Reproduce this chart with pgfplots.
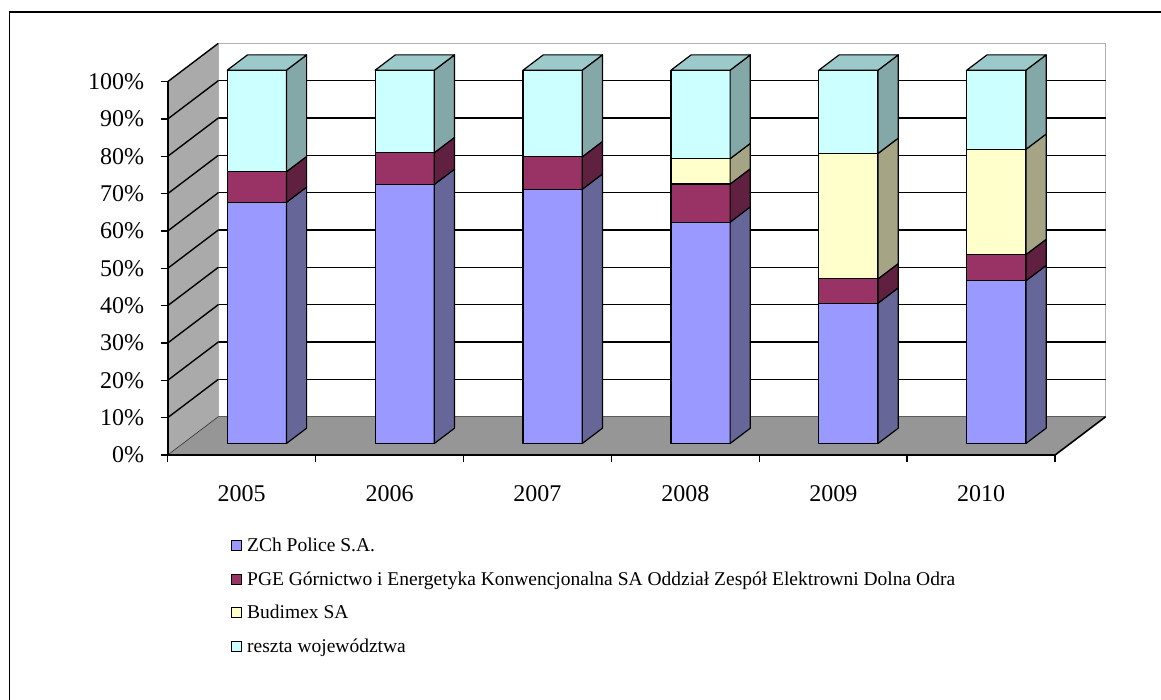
\documentclass[border=0pt]{standalone}
\usepackage{fontspec}
\setmainfont{Liberation Serif}
\usepackage{pgfplots}
\pgfplotsset{compat=1.18}

\definecolor{zch}{HTML}{9999FF}
\definecolor{zchs}{HTML}{666699}
\definecolor{pge}{HTML}{993366}
\definecolor{pges}{HTML}{602040}
\definecolor{bud}{HTML}{FFFFCC}
\definecolor{buds}{HTML}{A5A585}
\definecolor{rest}{HTML}{CCFFFF}
\definecolor{rests}{HTML}{84A8A8}
\definecolor{restt}{HTML}{9CCACA}
\definecolor{lwall}{HTML}{AAAAAA}
\definecolor{flr}{HTML}{969696}

\pgfplotsset{cub/.style={draw=black, line width=1.2pt, line join=round, mark=none}}

% one stacked segment of a 3-D column: front face and right side face
% #1 category index, #2 lower value, #3 upper value, #4 front colour, #5 side colour
\newcommand\seg[5]{%
  \pgfmathsetmacro\xl{#1-0.2+0.1026}%
  \pgfmathsetmacro\xr{#1+0.2+0.1026}%
  \pgfmathsetmacro\xb{#1+0.2+0.2394}%
  \pgfmathsetmacro\fa{#2+3.078}%
  \pgfmathsetmacro\fb{#3+3.078}%
  \pgfmathsetmacro\ba{#2+7.182}%
  \pgfmathsetmacro\bb{#3+7.182}%
  \edef\temp{%
    \noexpand\addplot[cub, fill=#4, forget plot] coordinates {(\xl,\fa) (\xr,\fa) (\xr,\fb) (\xl,\fb)} -- cycle;
    \noexpand\addplot[cub, fill=#5, forget plot] coordinates {(\xr,\fa) (\xb,\ba) (\xb,\bb) (\xr,\fb)} -- cycle;
  }\temp}
% top face of a column (at 100 %)
\newcommand\topface[1]{%
  \pgfmathsetmacro\xl{#1-0.2+0.1026}%
  \pgfmathsetmacro\xr{#1+0.2+0.1026}%
  \pgfmathsetmacro\xlb{#1-0.2+0.2394}%
  \pgfmathsetmacro\xb{#1+0.2+0.2394}%
  \edef\temp{%
    \noexpand\addplot[cub, fill=restt, forget plot] coordinates {(\xl,103.078) (\xr,103.078) (\xb,107.182) (\xlb,107.182)} -- cycle;
  }\temp}

\begin{document}
\begin{tikzpicture}
\path[use as bounding box] (0pt,0pt) rectangle (1161pt,700pt);
\draw[line width=1.5pt] (9.5pt,0pt) -- (9.5pt,688pt) -- (1161pt,688pt);
\begin{axis}[
  at={(167.7pt,245pt)}, anchor=south west,
  x=147.9pt, y=3.733pt,
  xmin=-0.5, xmax=5.5, ymin=0, ymax=100,
  enlargelimits=false, clip=false, axis on top,
  axis x line=bottom, axis y line=left,
  axis line style={-, line width=1.6pt, black},
  tick align=outside, major tick length=7pt,
  tick style={black, line width=1.5pt},
  ytick={0,10,...,100},
  yticklabels={0\%,10\%,20\%,30\%,40\%,50\%,60\%,70\%,80\%,90\%,100\%},
  xtick={-0.5,0.5,...,5.5}, xticklabels={},
  extra x ticks={0,1,2,3,4,5},
  extra x tick labels={2005,2006,2007,2008,2009,2010},
  extra x tick style={major tick length=0pt},
  tick label style={font=\fontsize{24}{28}\selectfont},
  yticklabel style={xshift=-13pt},
  xticklabel style={yshift=-27pt},
  legend image code/.code={\draw[#1, line width=1pt] (0pt,-5pt) rectangle (10pt,5pt);},
  legend cell align=left,
  legend style={draw=none, fill=none, at={(0.0713,-0.217)}, anchor=north west,
    font=\fontsize{19.5}{22}\selectfont, row sep=14.5pt, inner sep=0pt,
    nodes={inner sep=2pt},
    /tikz/every odd column/.append style={column sep=3pt}},
]
% back wall
\addplot[fill=white, draw=gray!60, line width=1pt, forget plot] coordinates {(-0.158,10.26) (5.842,10.26) (5.842,110.26) (-0.158,110.26)} -- cycle;
% back wall grid
\addplot[black, line width=1.4pt, forget plot] coordinates {(-0.158,20.26) (5.842,20.26)};
\addplot[black, line width=1.4pt, forget plot] coordinates {(-0.158,30.26) (5.842,30.26)};
\addplot[black, line width=1.4pt, forget plot] coordinates {(-0.158,40.26) (5.842,40.26)};
\addplot[black, line width=1.4pt, forget plot] coordinates {(-0.158,50.26) (5.842,50.26)};
\addplot[black, line width=1.4pt, forget plot] coordinates {(-0.158,60.26) (5.842,60.26)};
\addplot[black, line width=1.4pt, forget plot] coordinates {(-0.158,70.26) (5.842,70.26)};
\addplot[black, line width=1.4pt, forget plot] coordinates {(-0.158,80.26) (5.842,80.26)};
\addplot[black, line width=1.4pt, forget plot] coordinates {(-0.158,90.26) (5.842,90.26)};
\addplot[black, line width=1.4pt, forget plot] coordinates {(-0.158,100.26) (5.842,100.26)};
% left wall
\addplot[fill=lwall, draw=none, forget plot] coordinates {(-0.5,0) (-0.158,10.26) (-0.158,110.26) (-0.5,100)} -- cycle;
\addplot[black, line width=1.4pt, forget plot] coordinates {(-0.5,10) (-0.158,20.26)};
\addplot[black, line width=1.4pt, forget plot] coordinates {(-0.5,20) (-0.158,30.26)};
\addplot[black, line width=1.4pt, forget plot] coordinates {(-0.5,30) (-0.158,40.26)};
\addplot[black, line width=1.4pt, forget plot] coordinates {(-0.5,40) (-0.158,50.26)};
\addplot[black, line width=1.4pt, forget plot] coordinates {(-0.5,50) (-0.158,60.26)};
\addplot[black, line width=1.4pt, forget plot] coordinates {(-0.5,60) (-0.158,70.26)};
\addplot[black, line width=1.4pt, forget plot] coordinates {(-0.5,70) (-0.158,80.26)};
\addplot[black, line width=1.4pt, forget plot] coordinates {(-0.5,80) (-0.158,90.26)};
\addplot[black, line width=1.4pt, forget plot] coordinates {(-0.5,90) (-0.158,100.26)};
\addplot[black, line width=1.4pt, forget plot] coordinates {(-0.5,100) (-0.158,110.26)};
% floor
\addplot[fill=flr, draw=none, forget plot] coordinates {(-0.5,0) (5.5,0) (5.842,10.26) (-0.158,10.26)} -- cycle;
\addplot[gray!40!black, line width=0.6pt, forget plot] coordinates {(-0.5,0) (-0.158,10.26) (5.842,10.26)};
\addplot[black, line width=1.6pt, forget plot] coordinates {(5.5,0) (5.842,10.26)};

% columns: ZCh Police, PGE, Budimex, reszta (cumulative %)
\seg{0}{0}{64.6}{zch}{zchs}
\seg{0}{64.6}{72.8}{pge}{pges}
\seg{0}{72.8}{100}{rest}{rests}
\topface{0}
\seg{1}{0}{69.4}{zch}{zchs}
\seg{1}{69.4}{77.9}{pge}{pges}
\seg{1}{77.9}{100}{rest}{rests}
\topface{1}
\seg{2}{0}{68.1}{zch}{zchs}
\seg{2}{68.1}{76.8}{pge}{pges}
\seg{2}{76.8}{100}{rest}{rests}
\topface{2}
\seg{3}{0}{59.3}{zch}{zchs}
\seg{3}{59.3}{69.5}{pge}{pges}
\seg{3}{69.5}{76.3}{bud}{buds}
\seg{3}{76.3}{100}{rest}{rests}
\topface{3}
\seg{4}{0}{37.6}{zch}{zchs}
\seg{4}{37.6}{44.1}{pge}{pges}
\seg{4}{44.1}{77.7}{bud}{buds}
\seg{4}{77.7}{100}{rest}{rests}
\topface{4}
\seg{5}{0}{43.6}{zch}{zchs}
\seg{5}{43.6}{50.6}{pge}{pges}
\seg{5}{50.6}{78.8}{bud}{buds}
\seg{5}{78.8}{100}{rest}{rests}
\topface{5}

\addlegendimage{fill=zch, draw=black}
\addlegendentry{ZCh Police S.A.}
\addlegendimage{fill=pge, draw=black}
\addlegendentry{PGE Górnictwo i Energetyka Konwencjonalna SA Oddział Zespół Elektrowni Dolna Odra}
\addlegendimage{fill=bud, draw=black}
\addlegendentry{Budimex SA}
\addlegendimage{fill=rest, draw=black}
\addlegendentry{reszta województwa}
\end{axis}
\end{tikzpicture}
\end{document}
